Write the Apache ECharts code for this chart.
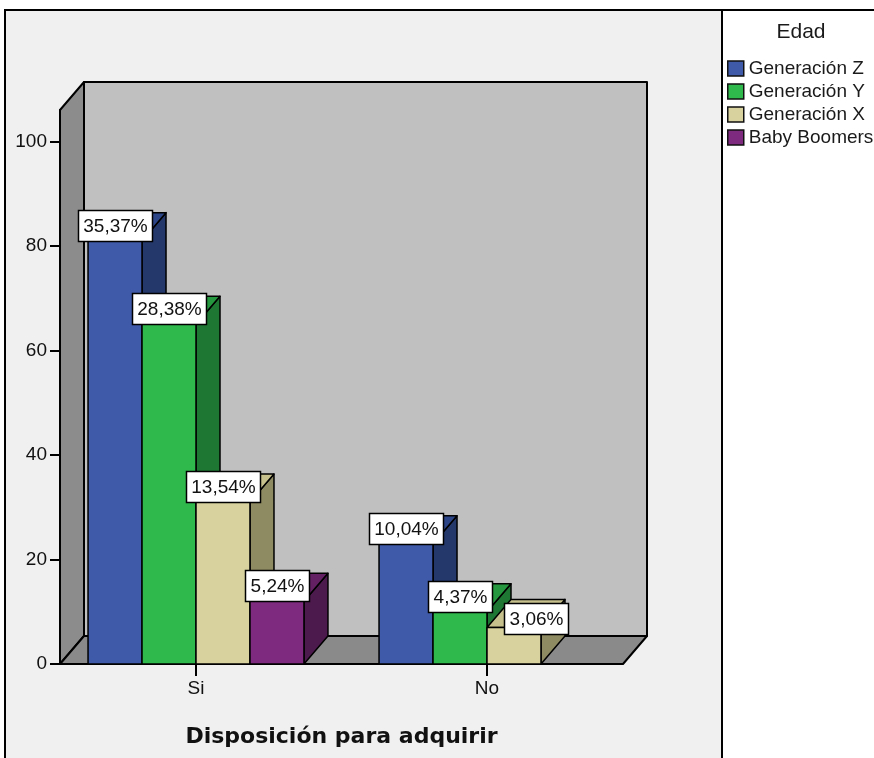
<!DOCTYPE html>
<html>
<head>
<meta charset="utf-8">
<script src="https://cdn.jsdelivr.net/npm/echarts@6/dist/echarts.min.js"></script>
<style>
  html, body { margin: 0; padding: 0; background: #ffffff; }
  #chart { width: 874px; height: 758px; }
</style>
</head>
<body>
<div id="chart"></div>
<script>
// ---- data ---------------------------------------------------------------
const categories = ['Si', 'No'];
const generations = ['Generación Z', 'Generación Y', 'Generación X', 'Baby Boomers'];
const genZ = [81, 23];
const genY = [65, 10];
const genX = [31, 7];
const boomers = [12, 0];
const yTicks = [0, 20, 40, 60, 80, 100];
const yMax = 106;

const seriesValues = [genZ, genY, genX, boomers];
const total = seriesValues.flat().reduce((a, b) => a + b, 0);

// ---- styles -------------------------------------------------------------
const frontColors = ['#3f5aa8', '#2fb84c', '#d8d39e', '#7e2a7e'];
const sideColors  = ['#25386c', '#1e7733', '#8e8a62', '#4c1a4c'];
const topColors   = ['#2c4586', '#25983f', '#c6c18c', '#632063'];
const LINE = '#000000';
const DEPTH_X = 24, DEPTH_Y = -28;   // oblique depth of walls and bars
const GROUP_SHARE = 0.742;           // part of a category band used by its bars
const FRAME_INSET = 9.5;             // floor edge inset inside the grid band
const LABEL_FONT = '19px "Liberation Sans", Arial, sans-serif';
const LABEL_PAD_X = 5, LABEL_H = 31;

const measureCtx = document.createElement('canvas').getContext('2d');
function textWidth(str) {
  measureCtx.font = LABEL_FONT;
  return measureCtx.measureText(str).width;
}
function pctText(v) {
  return (v / total * 100).toFixed(2).replace('.', ',') + '%';
}

function barGeom(api, k, cat, value) {
  const base = api.coord([cat, 0]);
  const top = api.coord([cat, value]);
  const band = api.size([1, 0])[0];
  const n = generations.length;
  const w = band * GROUP_SHARE / n;
  const x = base[0] - w * n / 2 + k * w;
  return { x: x, y: top[1], w: w, h: base[1] - top[1] };
}

function labelBox(api, k, cat) {
  const value = seriesValues[k][cat];
  if (!(value > 0)) return null;
  const g = barGeom(api, k, cat, value);
  const text = pctText(value);
  const w = Math.round(textWidth(text)) + 2 * LABEL_PAD_X;
  return { text: text, left: g.x + g.w / 2 - w / 2, top: g.y - LABEL_H, w: w, h: LABEL_H };
}

function overlaps(a, b) {
  return a.left < b.left + b.w && b.left < a.left + a.w &&
         a.top < b.top + b.h && b.top < a.top + a.h;
}

// back wall, side wall and floor of the 3D plot box
function renderFrame(params, api) {
  const cs = params.coordSys;
  const L = cs.x + FRAME_INSET, R = cs.x + cs.width - FRAME_INSET;
  const T = cs.y, B = cs.y + cs.height;
  const dx = DEPTH_X, dy = DEPTH_Y;
  const stroke = { stroke: LINE, lineWidth: 2, lineJoin: 'round' };
  return {
    type: 'group',
    children: [
      { type: 'rect', shape: { x: L + dx, y: T + dy, width: R - L, height: B - T },
        style: Object.assign({ fill: '#c0c0c0' }, stroke) },
      { type: 'polygon', shape: { points: [[L, T], [L + dx, T + dy], [L + dx, B + dy], [L, B]] },
        style: Object.assign({ fill: '#8c8c8c' }, stroke) },
      { type: 'polygon', shape: { points: [[L, B], [L + dx, B + dy], [R + dx, B + dy], [R, B]] },
        style: Object.assign({ fill: '#8a8a8a' }, stroke) }
    ]
  };
}

function makeBarRenderer(k) {
  return function (params, api) {
    const cat = api.value(0);
    const value = api.value(1);
    if (!(value > 0)) return null;
    const g = barGeom(api, k, cat, value);
    const dx = DEPTH_X, dy = DEPTH_Y;
    const x0 = g.x, x1 = g.x + g.w, y0 = g.y, y1 = g.y + g.h;
    const st = { stroke: LINE, lineWidth: 1.5, lineJoin: 'round' };
    const children = [
      { type: 'polygon', z2: 1,
        shape: { points: [[x1, y0], [x1 + dx, y0 + dy], [x1 + dx, y1 + dy], [x1, y1]] },
        style: Object.assign({ fill: sideColors[k] }, st) },
      { type: 'polygon', z2: 1,
        shape: { points: [[x0, y0], [x0 + dx, y0 + dy], [x1 + dx, y0 + dy], [x1, y0]] },
        style: Object.assign({ fill: topColors[k] }, st) },
      { type: 'rect', z2: 2,
        shape: { x: x0, y: y0, width: g.w, height: g.h },
        style: Object.assign({ fill: frontColors[k] }, st) }
    ];
    // percentage label box, nudged aside when it would cover its left neighbour
    const box = labelBox(api, k, cat);
    if (box) {
      const prev = k > 0 ? labelBox(api, k - 1, cat) : null;
      if (prev && overlaps(box, prev)) {
        box.left += prev.left + prev.w - box.left + 12;
        box.top += 7;
      }
      children.push({
        type: 'rect', z2: 100,
        shape: { x: Math.round(box.left) + 0.5, y: Math.round(box.top) + 0.5, width: box.w, height: box.h },
        style: { fill: '#ffffff', stroke: '#000000', lineWidth: 1.5 }
      });
      children.push({
        type: 'text', z2: 101,
        x: Math.round(box.left) + 0.5 + box.w / 2, y: Math.round(box.top) + 0.5 + box.h / 2 + 1,
        style: { text: box.text, font: LABEL_FONT, fill: '#111111', align: 'center', verticalAlign: 'middle' }
      });
    }
    return { type: 'group', children: children };
  };
}

const chart = echarts.init(document.getElementById('chart'), null, { renderer: 'canvas' });

const barSeries = generations.map((name, k) => ({
  name: name,
  type: 'custom',
  renderItem: makeBarRenderer(k),
  itemStyle: { color: frontColors[k] },
  encode: { x: 0, y: 1 },
  data: seriesValues[k].map((v, i) => [i, v]),
  silent: true,
  z: 3
}));

chart.setOption({
  backgroundColor: '#ffffff',
  animation: false,
  graphic: [
    { type: 'rect', z: -10, shape: { x: 5, y: 10, width: 717, height: 760 },
      style: { fill: '#f0f0f0', stroke: '#000', lineWidth: 2 } },
    { type: 'rect', z: -10, shape: { x: 722, y: 10, width: 160, height: 760 },
      style: { fill: '#ffffff', stroke: '#000', lineWidth: 2 } },
    { type: 'text', z: 10, x: 801, y: 32,
      style: { text: 'Edad', font: '21px "Liberation Sans", Arial, sans-serif', fill: '#1a1a1a',
               align: 'center', verticalAlign: 'middle' } }
  ],
  legend: {
    orient: 'vertical',
    left: 727,
    top: 59,
    padding: 0,
    icon: 'rect',
    itemWidth: 16,
    itemHeight: 15,
    itemGap: 4,
    selectedMode: false,
    itemStyle: { borderColor: '#111111', borderWidth: 1.5 },
    textStyle: { fontSize: 19, fontFamily: '"Liberation Sans", Arial, sans-serif', color: '#1a1a1a' },
    data: generations
  },
  grid: { left: 50.5, right: 241.5, top: 110, bottom: 94, containLabel: false },
  xAxis: {
    type: 'category',
    data: categories,
    name: 'Disposición para adquirir',
    nameLocation: 'middle',
    nameGap: 62,
    nameTextStyle: { fontSize: 22, fontWeight: 'bold', fontFamily: '"DejaVu Sans", sans-serif', color: '#111111' },
    axisLine: { show: false },
    axisTick: { show: true, alignWithLabel: true, length: 12, lineStyle: { color: '#000', width: 2 } },
    axisLabel: { fontSize: 19, fontFamily: '"Liberation Sans", Arial, sans-serif', color: '#111111', margin: 15 },
    splitLine: { show: false }
  },
  yAxis: {
    type: 'value',
    min: 0,
    max: yMax,
    interval: 20,
    offset: -FRAME_INSET,
    z: 5,
    axisLine: { show: true, lineStyle: { color: '#000', width: 2 } },
    axisTick: { show: true, length: 10, customValues: yTicks, lineStyle: { color: '#000', width: 2 } },
    axisLabel: { fontSize: 19, fontFamily: '"Liberation Sans", Arial, sans-serif', color: '#111111',
                 margin: 13, customValues: yTicks },
    splitLine: { show: false }
  },
  series: [{
    type: 'custom',
    renderItem: renderFrame,
    data: [[0, 0]],
    encode: { x: 0, y: 1 },
    silent: true,
    z: 1
  }].concat(barSeries)
});
</script>
</body>
</html>
